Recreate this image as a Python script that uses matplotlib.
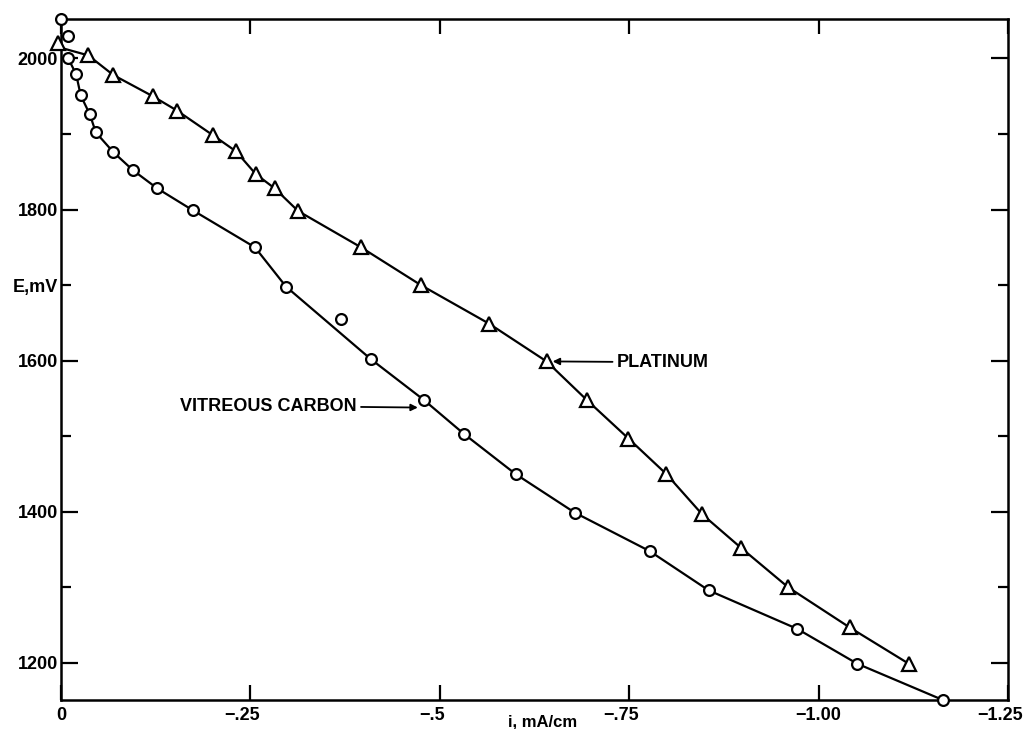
import matplotlib
matplotlib.use("Agg")
import matplotlib.pyplot as plt
from matplotlib.ticker import FixedLocator, FixedFormatter
from matplotlib.transforms import ScaledTranslation

# ---- data ----
carbon_i = [0.000, -0.009, -0.009, -0.020, -0.026, -0.038, -0.046, -0.069, -0.095,
            -0.127, -0.174, -0.256, -0.297, -0.369, -0.409, -0.479, -0.532, -0.600,
            -0.678, -0.777, -0.855, -0.972, -1.051, -1.164]
carbon_E = [2052, 2029, 2001, 1979, 1951, 1926, 1902, 1876, 1852,
            1828, 1799, 1750, 1698, 1655, 1602, 1548, 1503, 1450,
            1399, 1348, 1296, 1245, 1199, 1151]
# points that the drawn curve passes through (the first two and the stray point are off-curve)
carbon_on_curve = [False, False, True, True, True, True, True, True, True,
                   True, True, True, True, False, True, True, True, True,
                   True, True, True, True, True, True]

pt_i = [0.004, -0.036, -0.069, -0.121, -0.153, -0.201, -0.231, -0.257, -0.282,
        -0.313, -0.396, -0.475, -0.565, -0.641, -0.694, -0.749, -0.799, -0.846,
        -0.898, -0.960, -1.041, -1.119]
pt_E = [2021, 2004, 1978, 1950, 1931, 1898, 1877, 1847, 1828,
        1798, 1750, 1700, 1649, 1599, 1548, 1497, 1450, 1397,
        1352, 1300, 1247, 1199]

x_ticks = [0, -0.25, -0.5, -0.75, -1.0, -1.25]
x_tick_labels = ["0", "\u2212.25", "\u2212.5", "\u2212.75", "\u22121.00", "\u22121.25"]
y_major = [1200, 1400, 1600, 1800, 2000]
y_major_labels = ["1200", "1400", "1600", "1800", "2000"]
y_minor = [1300, 1500, 1700, 1900]
y_minor_labels = ["", "", "E,mV", ""]

FONT = ["Liberation Sans", "DejaVu Sans"]
plt.rcParams["font.family"] = FONT

fig = plt.figure(figsize=(10.27, 7.29), dpi=100)
ax = fig.add_axes([0.0594, 0.0398, 0.9221, 0.934])

# curves
cx = [x for x, k in zip(carbon_i, carbon_on_curve) if k]
cy = [y for y, k in zip(carbon_E, carbon_on_curve) if k]
ax.plot(cx, cy, color="black", lw=1.6, zorder=2)
ax.plot([0.0] + pt_i[1:], [2014] + pt_E[1:], color="black", lw=1.6, zorder=2)

# markers
ax.plot(carbon_i, carbon_E, linestyle="none", marker="o", ms=7.8, mfc="white",
        mec="black", mew=1.6, zorder=4, clip_on=False)
ax.plot(pt_i, pt_E, linestyle="none", marker="^", ms=9.5, mfc="white",
        mec="black", mew=1.6, zorder=4, clip_on=False)

ax.set_xlim(0, -1.25)
ax.set_ylim(1151, 2052)

for s in ax.spines.values():
    s.set_linewidth(1.8)

ax.set_xticks(x_ticks)
ax.set_xticklabels(x_tick_labels)
ax.yaxis.set_major_locator(FixedLocator(y_major))
ax.yaxis.set_major_formatter(FixedFormatter(y_major_labels))
ax.yaxis.set_minor_locator(FixedLocator(y_minor))
ax.yaxis.set_minor_formatter(FixedFormatter(y_minor_labels))

ax.tick_params(axis="x", which="major", direction="in", length=11, width=1.6,
               top=True, bottom=True, labelsize=13, pad=5)
ax.tick_params(axis="y", which="major", direction="in", length=12, width=1.6,
               left=True, right=True, labelsize=13, pad=2)
ax.tick_params(axis="y", which="minor", direction="in", length=7, width=1.6,
               left=True, right=True, labelsize=13, pad=2)
for lab in ax.get_xticklabels() + ax.get_yticklabels() + ax.get_yticklabels(minor=True):
    lab.set_fontweight("bold")

# the printed x labels sit slightly left of their ticks
shift = ScaledTranslation(-8 / 100, 0, fig.dpi_scale_trans)
for k, lab in enumerate(ax.get_xticklabels()):
    if k in (1, 2, 3, 5):
        lab.set_transform(lab.get_transform() + shift)

ax.set_xlabel("i, mA/cm", fontsize=12, fontweight="bold")
ax.xaxis.set_label_coords(0.509, -0.032)
ax.xaxis.label.set_va("center")

ax.annotate("PLATINUM", xy=(-0.649, 1599), xytext=(-0.7335, 1598),
            ha="left", va="center", fontsize=13, fontweight="bold",
            arrowprops=dict(arrowstyle="-|>", color="black", lw=1.3,
                            shrinkA=1, shrinkB=0, mutation_scale=10))
ax.annotate("VITREOUS CARBON", xy=(-0.471, 1538), xytext=(-0.3905, 1540),
            ha="right", va="center", fontsize=13, fontweight="bold",
            arrowprops=dict(arrowstyle="-|>", color="black", lw=1.3,
                            shrinkA=1, shrinkB=0, mutation_scale=10))

fig.savefig("out.png", dpi=100)
